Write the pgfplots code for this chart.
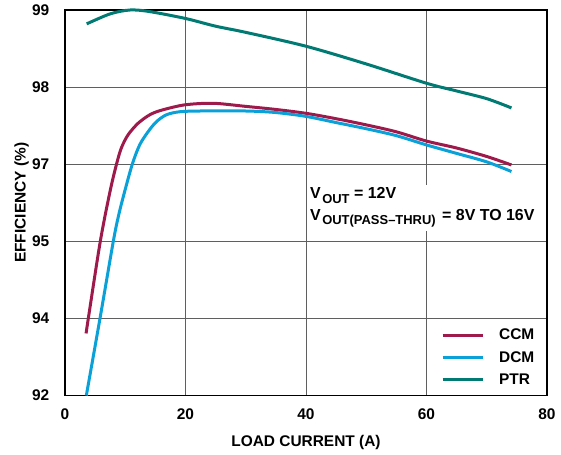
\documentclass[border=0pt]{standalone}
\usepackage{pgfplots}
\pgfplotsset{compat=1.18}
\usepackage{fontspec}
\setmainfont{Liberation Sans}

\definecolor{ccmcol}{RGB}{158,26,74}
\definecolor{dcmcol}{RGB}{10,160,216}
\definecolor{ptrcol}{RGB}{0,122,114}
\definecolor{gridcol}{RGB}{95,95,95}

% lowered, smaller subscript text
\newcommand{\sub}[1]{\kern1.5bp\raisebox{-4.3bp}{\fontsize{13}{13}\selectfont #1}}

\begin{document}
\begin{tikzpicture}
\useasboundingbox (-65bp,-59.5bp) rectangle (496bp,395.5bp);
\begin{axis}[
  at={(0,0)}, anchor=south west,
  width=482bp, height=385.5bp, scale only axis,
  xmin=0, xmax=80, ymin=92, ymax=99,
  % piecewise efficiency scale: 92,94,95,97,98,99 equally spaced
  y coord trafo/.code={\pgfmathparse{#1<94 ? (#1-92)/2 : (#1<95 ? #1-93 : (#1<97 ? 2+(#1-95)/2 : #1-94))}},
  xtick={0,20,40,60,80},
  ytick={92,94,95,97,98,99},
  yticklabels={92,94,95,97,98,99},
  grid=major,
  major grid style={draw=gridcol, line width=0.9bp},
  major tick length=0pt,
  axis line style={line width=1.3bp, black},
  clip=false,
  font=\fontsize{15.5}{18}\selectfont\bfseries,
  /pgf/number format/assume math mode=true,
  xticklabel style={anchor=center, yshift=-18.5bp, inner sep=0pt},
  yticklabel style={anchor=east, inner sep=0pt, xshift=-15.5bp},
  xlabel={LOAD CURRENT (A)},
  ylabel={EFFICIENCY (\%)},
  xlabel style={at={(axis description cs:0.5,-0.123)}, anchor=center, inner sep=0pt},
  ylabel style={at={(axis description cs:-0.09,0.5)}, anchor=center, inner sep=0pt},
  legend image code/.code={\draw[#1, line width=3bp] (0bp,0bp) -- (40bp,0bp);},
  legend cell align=left,
  legend style={draw=none, fill=none, at={(axis description cs:0.78,0.173)}, anchor=north west,
    inner sep=0pt, row sep=10bp, column sep=15bp,
    nodes={inner sep=0pt, font=\fontsize{15.5}{18}\selectfont\bfseries}},
  every axis plot/.append style={line width=3bp, smooth, tension=0.5},
]
\addplot[ccmcol] coordinates {
  (3.5,93.61) (3.87,94.0) (5.86,95.0)
  (7.47,96.29) (8.55,97.0) (9.35,97.21) (10.46,97.38) (12.12,97.53) (14.05,97.64)
  (16.0,97.70) (19.9,97.77) (24.6,97.79) (30,97.75) (35,97.71) (40,97.66)
  (45,97.59) (50,97.51) (55,97.42) (60,97.30) (65,97.21) (70,97.10) (74.1,96.98)
};
\addlegendentry{CCM}
\addplot[dcmcol] coordinates {
  (3.54,92.0) (5.81,94.0) (8.02,95.0) (8.91,95.68)
  (9.9,96.29) (11.17,97.0) (12.39,97.25) (13.78,97.42) (15.16,97.55) (16.8,97.64)
  (19,97.68) (22.4,97.69) (30,97.69) (35,97.67) (40,97.62) (45,97.54)
  (50,97.46) (55,97.37) (60,97.25) (65,97.14) (70,97.03) (74.1,96.81)
};
\addlegendentry{DCM}
\addplot[ptrcol] coordinates {
  (3.6,98.82) (7.5,98.95) (10.8,99.0) (14,98.98) (20,98.89) (25,98.79)
  (30,98.71) (40,98.53) (50,98.30) (60,98.05) (65,97.95) (70,97.85) (74.1,97.73)
};
\addlegendentry{PTR}
\node[fill=white, align=left, anchor=north west, inner sep=3bp,
      font=\fontsize{16}{21.7}\selectfont\bfseries]
  at (axis description cs:0.502,0.547)
  {V\sub{OUT} = 12V\\V\sub{OUT(PASS–THRU)}\hspace{2bp} = 8V TO 16V};
\end{axis}
\end{tikzpicture}
\end{document}
